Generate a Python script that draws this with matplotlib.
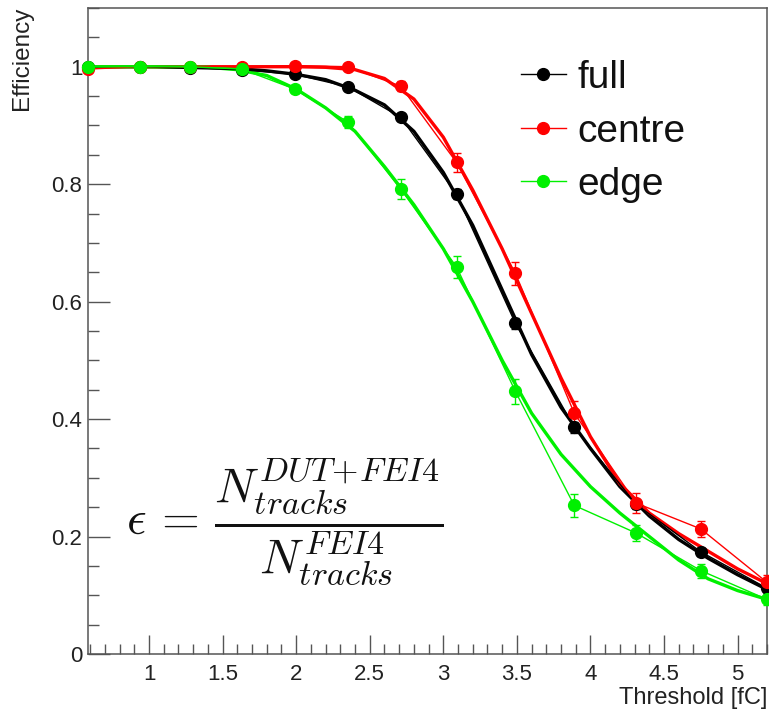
import matplotlib
matplotlib.use('Agg')
import matplotlib.pyplot as plt
from matplotlib.lines import Line2D
from matplotlib.ticker import FixedLocator, FixedFormatter

# ---- data ----
thresholds = [0.585, 0.94, 1.28, 1.63, 1.99, 2.35, 2.71, 3.09, 3.49, 3.89, 4.31, 4.75, 5.2]
full_eff = [1.0, 1.0, 0.997, 0.995, 0.987, 0.966, 0.914, 0.783, 0.563, 0.386, 0.255, 0.174, 0.112]
centre_eff = [0.996, 1.0, 1.0, 1.0, 1.002, 1.0, 0.967, 0.837, 0.648, 0.41, 0.257, 0.213, 0.122]
edge_eff = [1.0, 1.0, 1.0, 0.996, 0.962, 0.906, 0.792, 0.659, 0.447, 0.253, 0.206, 0.142, 0.093]
full_err = [0.001, 0.001, 0.002, 0.002, 0.003, 0.004, 0.006, 0.008, 0.009, 0.009, 0.008, 0.007, 0.006]
centre_err = [0.002, 0.001, 0.001, 0.001, 0.002, 0.004, 0.009, 0.016, 0.02, 0.02, 0.017, 0.014, 0.012]
edge_err = [0.001, 0.001, 0.002, 0.002, 0.006, 0.01, 0.017, 0.019, 0.022, 0.019, 0.014, 0.012, 0.01]

fit_x = [0.585, 1.0, 1.4, 1.6, 1.8, 2.0, 2.2, 2.4, 2.6, 2.8, 3.0, 3.2, 3.4, 3.6, 3.8,
         4.0, 4.2, 4.4, 4.6, 4.8, 5.0, 5.2]
full_fit = [1.0, 1.0, 0.999, 0.997, 0.993, 0.987, 0.978, 0.960, 0.935, 0.89, 0.82, 0.73,
            0.62, 0.51, 0.42, 0.35, 0.285, 0.235, 0.195, 0.163, 0.135, 0.11]
centre_fit = [1.0, 1.0, 1.0, 1.0, 1.0, 1.0, 0.999, 0.995, 0.98, 0.945, 0.88, 0.79,
              0.69, 0.58, 0.47, 0.37, 0.29, 0.24, 0.205, 0.175, 0.145, 0.12]
edge_fit = [1.0, 1.0, 0.999, 0.995, 0.985, 0.962, 0.93, 0.89, 0.83, 0.765, 0.69, 0.60,
            0.50, 0.41, 0.34, 0.285, 0.24, 0.20, 0.16, 0.128, 0.108, 0.093]

series_names = ['full', 'centre', 'edge']
series_colors = ['#000000', '#ff0000', '#00f000']

x_major = [1, 1.5, 2, 2.5, 3, 3.5, 4, 4.5, 5]
x_labels = ['1', '1.5', '2', '2.5', '3', '3.5', '4', '4.5', '5']
y_major = [0, 0.2, 0.4, 0.6, 0.8, 1.0]
y_labels = ['0', '0.2', '0.4', '0.6', '0.8', '1']

plt.rcParams['font.family'] = ['Liberation Sans', 'DejaVu Sans']
plt.rcParams['mathtext.fontset'] = 'cm'

W, H = 769, 713
fig = plt.figure(figsize=(W / 100, H / 100), dpi=100)
ax = fig.add_axes([88 / W, 1 - 654 / H, (767 - 88) / W, (654 - 8) / H])

effs = [full_eff, centre_eff, edge_eff]
errs = [full_err, centre_err, edge_err]
fits = [full_fit, centre_fit, edge_fit]

for eff, err, fit, col in zip(effs, errs, fits, series_colors):
    ax.plot(fit_x, fit, '-', color=col, lw=2.4, clip_on=False, zorder=2)
    ax.errorbar(thresholds, eff, yerr=err, fmt='-o', color=col, lw=1.0,
                elinewidth=1.0, capsize=3, markersize=8.5, clip_on=False, zorder=3)

ax.set_xlim(0.585, 5.2)
ax.set_ylim(0, 1.1)

ax.xaxis.set_major_locator(FixedLocator(x_major))
ax.xaxis.set_major_formatter(FixedFormatter(x_labels))
ax.yaxis.set_major_locator(FixedLocator(y_major))
ax.yaxis.set_major_formatter(FixedFormatter(y_labels))
ax.xaxis.set_minor_locator(FixedLocator([0.6 + 0.1 * i for i in range(47)]))
ax.yaxis.set_minor_locator(FixedLocator([0.05 * i for i in range(23)]))

axis_col = '#555555'
for s in ax.spines.values():
    s.set_color(axis_col)
    s.set_linewidth(1.1)
ax.tick_params(axis='both', which='both', direction='in', colors=axis_col,
               labelcolor='#222222', labelsize=16, top=False, right=False)
ax.tick_params(axis='y', which='major', length=15.5, width=1.0, pad=4)
ax.tick_params(axis='y', which='minor', length=8, width=1.0)
ax.tick_params(axis='x', which='major', length=14, width=1.0, pad=7)
ax.tick_params(axis='x', which='minor', length=7, width=1.0)

fig.text(22 / W, 1 - 7 / H, 'Efficiency', rotation=90, ha='center', va='top',
         fontsize=17.5, color='#222222')
fig.text(767 / W, 1 - 698 / H, 'Threshold [fC]', ha='right', va='center',
         fontsize=17, color='#222222')

fig.text(285 / W, 1 - 522 / H,
         r'$\epsilon\,=\,\dfrac{N^{DUT\!+\!FEI4}_{tracks}}{N^{FEI4}_{tracks}}$',
         fontsize=35, ha='center', va='center', color='#111111')

handles = [Line2D([], [], color=c, lw=1.0, marker='o', markersize=8.5) for c in series_colors]
leg = fig.legend(handles, series_names, loc='upper left',
                 bbox_to_anchor=(521 / W, 1 - 60 / H), frameon=False, fontsize=28,
                 handlelength=1.15, handletextpad=0.3, labelspacing=0.45,
                 borderpad=0, borderaxespad=0)
for t in leg.get_texts():
    t.set_color('#111111')

fig.savefig('out.png', dpi=100)
